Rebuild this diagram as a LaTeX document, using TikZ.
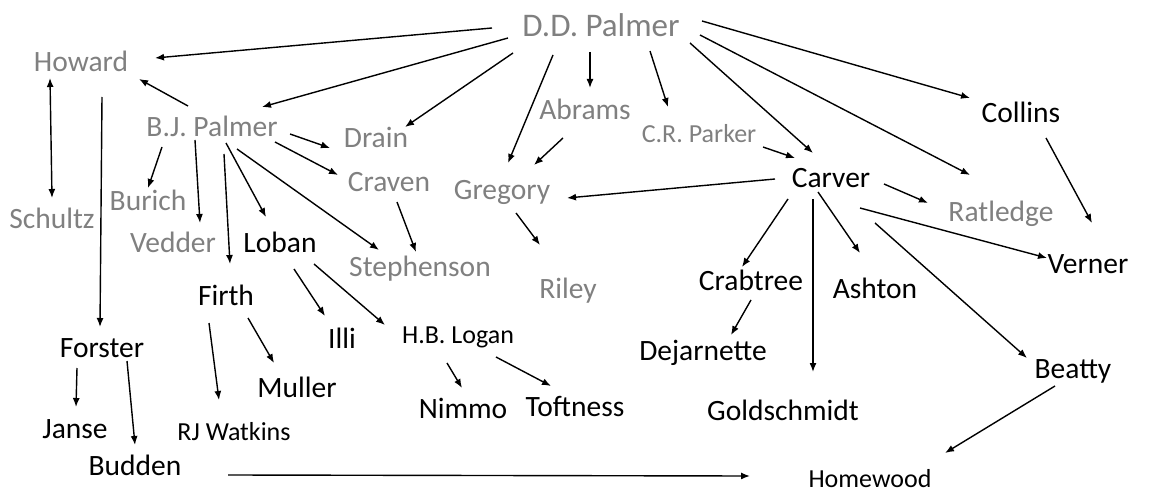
\documentclass[tikz,border=0pt]{standalone}
\usepackage{fontspec}
\setmainfont{Carlito}
\usepackage{tikz}
\usetikzlibrary{arrows.meta}
\definecolor{pale}{RGB}{128,128,128}

\begin{document}
\begin{tikzpicture}[x=1pt, y=-1pt, >={Latex[length=9pt,width=7pt]}, every node/.style={anchor=base, inner sep=1pt, font=\fontsize{29.5}{34}\selectfont}, elder/.style={text=pale}, smallname/.style={font=\fontsize{26}{30}\selectfont}, link/.style={->, line width=1.4pt}]
\useasboundingbox (0,0) rectangle (1149,492);
% first generation and founders
\node[elder, font=\fontsize{33}{38}\selectfont] (dd) at (601,37) {D.D. Palmer};
\node[elder] (howard) at (81,72) {Howard};
\node[elder] (bj) at (212,137) {B.J. Palmer};
\node[elder] (drain) at (376,148) {Drain};
\node[elder] (craven) at (389,192) {Craven};
\node[elder] (burich) at (148,210) {Burich};
\node[elder] (schultz) at (52,228) {Schultz};
\node[elder] (vedder) at (173,252) {Vedder};
\node[elder] (steph) at (420,276) {Stephenson};
\node[elder] (abrams) at (585,120) {Abrams};
\node[elder, smallname] (crp) at (699,143) {C.R. Parker};
\node[elder] (gregory) at (502,200) {Gregory};
\node[elder] (ratledge) at (1001,222) {Ratledge};
\node[elder] (riley) at (568,298) {Riley};
% later ones
\node (loban) at (280,252) {Loban};
\node (carver) at (831,187) {Carver};
\node (collins) at (1021,123) {Collins};
\node (verner) at (1088,273) {Verner};
\node (firth) at (226,305) {Firth};
\node (crabtree) at (751,290) {Crabtree};
\node (ashton) at (875,298) {Ashton};
\node (illi) at (342,348) {Illi};
\node[smallname] (hbl) at (458,343) {H.B. Logan};
\node (dejar) at (703,360) {Dejarnette};
\node (forster) at (102,357) {Forster};
\node (beatty) at (1073,378) {Beatty};
\node (muller) at (297,397) {Muller};
\node (nimmo) at (463,418) {Nimmo};
\node (toft) at (575,416) {Toftness};
\node (gold) at (783,420) {Goldschmidt};
\node (janse) at (75,438) {Janse};
\node[smallname] (rjw) at (234,440) {RJ Watkins};
\node (budden) at (135,475) {Budden};
\node[smallname, text depth=0pt, inner sep=0pt] (homewood) at (870,487) {Homewood};
% from D.D. Palmer
\draw[link] ([shift={(-109,-9)}]dd.base) -- ([shift={(74,-14)}]howard.base);
\draw[link] ([shift={(-93,1)}]dd.base) -- ([shift={(50,-30)}]bj.base);
\draw[link] ([shift={(-88,16)}]dd.base) -- ([shift={(29,-21)}]drain.base);
\draw[link] ([shift={(-48,18)}]dd.base) -- ([shift={(6,-37)}]gregory.base);
\draw[link] ([shift={(-11,15)}]dd.base) -- ([shift={(5,-32)}]abrams.base);
\draw[link] ([shift={(49,14)}]dd.base) -- ([shift={(-31,-36)}]crp.base);
\draw[link] ([shift={(89,6)}]dd.base) -- ([shift={(-18,-34)}]carver.base);
\draw[link] ([shift={(99,-2)}]dd.base) -- ([shift={(-31,-47)}]ratledge.base);
\draw[link] ([shift={(101,-16)}]dd.base) -- ([shift={(-51,-25)}]collins.base);
% Howard and B.J. Palmer
\draw[link] ([shift={(-24,-31)}]bj.base) -- ([shift={(58,7)}]howard.base);
\draw[link, <->] ([shift={(-31,6)}]howard.base) -- ([shift={(0,-30)}]schultz.base);
\draw[link] ([shift={(21,25)}]howard.base) -- ([shift={(-2,-30)}]forster.base);
\draw[link] ([shift={(78,-3)}]bj.base) -- ([shift={(-46,0)}]drain.base);
\draw[link] ([shift={(63,5)}]bj.base) -- ([shift={(-51,-17)}]craven.base);
\draw[link] ([shift={(-50,10)}]bj.base) -- ([shift={(0,-22)}]burich.base);
\draw[link] ([shift={(-17,3)}]bj.base) -- ([shift={(27,-29)}]vedder.base);
\draw[link] ([shift={(12,17)}]bj.base) -- ([shift={(4,-41)}]firth.base);
\draw[link] ([shift={(14,6)}]bj.base) -- ([shift={(-14,-35)}]loban.base);
\draw[link] ([shift={(25,12)}]bj.base) -- ([shift={(-41,-26)}]steph.base);
\draw[link] ([shift={(8,10)}]craven.base) -- ([shift={(-4,-24)}]steph.base);
\draw[link] ([shift={(-22,18)}]abrams.base) -- ([shift={(32,-35)}]gregory.base);
\draw[link] ([shift={(14,13)}]gregory.base) -- ([shift={(-28,-53)}]riley.base);
% Carver
\draw[link] ([shift={(64,4)}]crp.base) -- ([shift={(-36,-29)}]carver.base);
\draw[link] ([shift={(-56,-8)}]carver.base) -- ([shift={(65,-2)}]gregory.base);
\draw[link] ([shift={(53,-3)}]carver.base) -- ([shift={(-73,-19)}]ratledge.base);
\draw[link] ([shift={(29,21)}]carver.base) -- ([shift={(-41,-15)}]verner.base);
\draw[link] ([shift={(44,36)}]carver.base) -- ([shift={(-46,-20)}]beatty.base);
\draw[link] ([shift={(-13,5)}]carver.base) -- ([shift={(-15,-45)}]ashton.base);
\draw[link] ([shift={(-18,12)}]carver.base) -- ([shift={(30,-48)}]gold.base);
\draw[link] ([shift={(-43,12)}]carver.base) -- ([shift={(-9,-23)}]crabtree.base);
\draw[link] ([shift={(25,15)}]collins.base) -- ([shift={(4,-50)}]verner.base);
\draw[link] ([shift={(0,10)}]crabtree.base) -- ([shift={(28,-25)}]dejar.base);
\draw[link] ([shift={(-18,8)}]beatty.base) -- ([shift={(75,-34)}]homewood.base);
% lower branches
\draw[link] ([shift={(14,17)}]loban.base) -- ([shift={(-17,-32)}]illi.base);
\draw[link] ([shift={(34,12)}]loban.base) -- ([shift={(-73,-18)}]hbl.base);
\draw[link] ([shift={(22,13)}]firth.base) -- ([shift={(-23,-34)}]muller.base);
\draw[link] ([shift={(-17,18)}]firth.base) -- ([shift={(-15,-40)}]rjw.base);
\draw[link] ([shift={(-25,11)}]forster.base) -- ([shift={(1,-31)}]janse.base);
\draw[link] ([shift={(25,4)}]forster.base) -- ([shift={(0,-30)}]budden.base);
\draw[link] ([shift={(-11,20)}]hbl.base) -- ([shift={(-1,-30)}]nimmo.base);
\draw[link] ([shift={(38,14)}]hbl.base) -- ([shift={(-24,-30)}]toft.base);
\draw[link] ([shift={(93,0)}]budden.base) -- ([shift={(-120,-11)}]homewood.base);
\end{tikzpicture}
\end{document}
